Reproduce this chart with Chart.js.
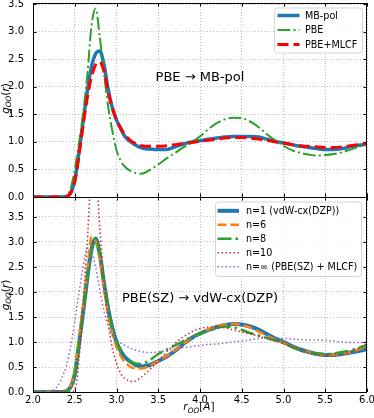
<!DOCTYPE html>
<html>
<head>
<meta charset="utf-8">
<script src="https://cdn.jsdelivr.net/npm/chart.js@4/dist/chart.umd.min.js"></script>
<style>
html, body { margin: 0; padding: 0; background: #fff; }
#wrap { position: relative; width: 374px; height: 418px; }
canvas { position: absolute; left: 0; }
#top { top: 0; }
#bot { top: 197px; }
</style>
</head>
<body>
<div id="wrap">
<canvas id="top" width="374" height="200"></canvas>
<canvas id="bot" width="374" height="221"></canvas>
</div>
<script>
// r_OO grid (Angstrom)
const r = [2.0, 2.1, 2.2, 2.25, 2.3, 2.35,
	2.4, 2.45, 2.5, 2.55, 2.6, 2.65, 2.7, 2.75, 2.8, 2.85, 2.9, 2.95, 3.0, 3.05, 3.1,
	3.2, 3.3, 3.4, 3.5, 3.6, 3.7, 3.8, 3.9, 4.0, 4.1, 4.2, 4.3, 4.4, 4.5, 4.6, 4.7, 4.8, 4.9,
	5.0, 5.1, 5.2, 5.3, 5.4, 5.5, 5.6, 5.7, 5.8, 5.9, 6.0]

// top panel: PBE -> MB-pol
const gMbpol = [0, 0, 0, 0, 0, 0,
	0.01, 0.07, 0.3, 0.8, 1.37, 1.92, 2.36, 2.6, 2.65, 2.4, 1.96, 1.62, 1.4, 1.24, 1.1,
	0.97, 0.89, 0.87, 0.86, 0.86, 0.91, 0.96, 1.0, 1.02, 1.05, 1.07, 1.09, 1.1, 1.1, 1.1, 1.09, 1.05, 1.01,
	0.98, 0.95, 0.92, 0.9, 0.88, 0.86, 0.86, 0.88, 0.91, 0.94, 0.96]
const gPbe = [0, 0, 0, 0, 0, 0,
	0.02, 0.15, 0.5, 0.98, 1.52, 2.2, 3.1, 3.42, 2.9, 2.25, 1.64, 1.2, 0.85, 0.66, 0.55,
	0.45, 0.42, 0.49, 0.59, 0.7, 0.8, 0.9, 0.99, 1.1, 1.23, 1.34, 1.41, 1.44, 1.43, 1.37, 1.27, 1.14, 1.03,
	0.93, 0.85, 0.8, 0.77, 0.75, 0.76, 0.78, 0.81, 0.86, 0.91, 0.96]
const gPbeMlcf = [0, 0, 0, 0, 0, 0,
	0.01, 0.07, 0.28, 0.75, 1.3, 1.8, 2.18, 2.4, 2.45, 2.28, 1.9, 1.62, 1.4, 1.25, 1.13,
	0.99, 0.93, 0.92, 0.92, 0.93, 0.95, 0.97, 0.99, 1.01, 1.03, 1.05, 1.07, 1.08, 1.08, 1.07, 1.05, 1.03, 1.0,
	0.98, 0.95, 0.93, 0.92, 0.91, 0.9, 0.9, 0.91, 0.93, 0.95, 0.97]

// bottom panel: PBE(SZ) -> vdW-cx(DZP)
const gN1 = [0, 0, 0, 0, 0, 0,
	0.02, 0.1, 0.35, 0.95, 1.6, 2.27, 2.85, 3.07, 2.75, 2.18, 1.67, 1.28, 1.0, 0.82, 0.7,
	0.57, 0.51, 0.54, 0.62, 0.71, 0.82, 0.96, 1.08, 1.17, 1.24, 1.3, 1.34, 1.36, 1.35, 1.31, 1.25, 1.16, 1.07,
	1.0, 0.92, 0.85, 0.8, 0.76, 0.74, 0.74, 0.76, 0.79, 0.82, 0.86]
const gN6 = [0, 0, 0, 0, 0, 0,
	0.03, 0.13, 0.42, 1.05, 1.72, 2.4, 3.1, 3.02, 2.65, 2.08, 1.56, 1.18, 0.9, 0.72, 0.6,
	0.48, 0.47, 0.53, 0.62, 0.72, 0.83, 0.96, 1.08, 1.17, 1.25, 1.31, 1.35, 1.36, 1.34, 1.29, 1.21, 1.13, 1.05,
	0.98, 0.91, 0.85, 0.8, 0.76, 0.74, 0.74, 0.77, 0.8, 0.85, 0.91]
const gN8 = [0, 0, 0, 0, 0, 0,
	0.02, 0.1, 0.35, 0.95, 1.6, 2.25, 2.85, 3.07, 2.78, 2.2, 1.68, 1.28, 1.0, 0.82, 0.7,
	0.58, 0.56, 0.64, 0.76, 0.85, 0.93, 1.02, 1.1, 1.17, 1.22, 1.28, 1.31, 1.29, 1.24, 1.18, 1.13, 1.08, 1.03,
	0.98, 0.9, 0.84, 0.8, 0.77, 0.76, 0.77, 0.8, 0.83, 0.88, 0.94]
const gN10 = [0, 0, 0, 0, 0, 0,
	0, 0, 0.04, 0.62, 1.77, 3.0, 4.3, 4.4, 3.27, 2.2, 1.4, 0.88, 0.58, 0.37, 0.27,
	0.21, 0.3, 0.45, 0.62, 0.8, 0.97, 1.1, 1.2, 1.27, 1.3, 1.3, 1.28, 1.24, 1.2, 1.16, 1.12, 1.07, 1.02,
	0.97, 0.91, 0.85, 0.79, 0.75, 0.72, 0.72, 0.75, 0.8, 0.88, 0.97]
const gNinf = [0, 0, 0.01, 0.05, 0.13, 0.3,
	0.52, 0.9, 1.4, 1.98, 2.5, 2.88, 2.82, 2.5, 2.05, 1.62, 1.32, 1.15, 1.05, 0.98, 0.93,
	0.85, 0.81, 0.79, 0.8, 0.83, 0.86, 0.89, 0.91, 0.93, 0.95, 0.96, 0.98, 1.0, 1.02, 1.04, 1.07, 1.08, 1.08,
	1.07, 1.06, 1.05, 1.04, 1.04, 1.03, 1.02, 1.0, 0.99, 0.99, 1.0]

const FONT = '"DejaVu Sans", sans-serif'
const GRID = '#bdbdbd'

const points = (ys) => ys.map((y, i) => ({ x: r[i], y }))

function series(label, ys, color, width, dash, order) {
	return { label, data: points(ys), borderColor: color, borderWidth: width, borderDash: dash, order, fill: false }
}

const topSets = [
	series('MB-pol', gMbpol, '#1f77b4', 3.5, [], 3),
	series('PBE', gPbe, '#2ca02c', 2, [12.8, 3.2, 2, 3.2], 2),
	series('PBE+MLCF', gPbeMlcf, '#ff0000', 3, [11, 5], 1),
]
const botSets = [
	series('n=1 (vdW-cx(DZP))', gN1, '#1f77b4', 4, [], 5),
	series('n=6', gN6, '#ff7f0e', 2.5, [9, 4], 4),
	series('n=8', gN8, '#2ca02c', 2.5, [14, 4, 2.5, 4], 3),
	series('n=10', gN10, '#d62728', 1.5, [1.5, 2.5], 2),
	series('n=\u221e (PBE(SZ) + MLCF)', gNinf, '#9467bd', 1.5, [1.5, 2.5], 1),
]

function drawMath(ctx, parts, size) {
	// parts: [text, italic, sub]
	let w = 0
	const sized = parts.map(([t, it, sub]) => {
		const f = (it ? 'italic ' : '') + (sub ? size * 0.7 : size) + 'px ' + FONT
		ctx.font = f
		const pw = ctx.measureText(t).width
		w += pw
		return { t, f, pw, dy: sub ? size * 0.25 : 0 }
	})
	let x = -w / 2
	ctx.textAlign = 'left'
	ctx.textBaseline = 'alphabetic'
	sized.forEach((p) => {
		ctx.font = p.f
		ctx.fillText(p.t, x, p.dy)
		x += p.pw
	})
}

function drawLegend(ctx, lg, sets) {
	ctx.save()
	ctx.beginPath()
	ctx.roundRect(lg.x0 + 0.5, lg.y0 + 0.5, lg.x1 - lg.x0, lg.y1 - lg.y0, 3)
	ctx.fillStyle = 'rgba(255,255,255,0.85)'
	ctx.fill()
	ctx.strokeStyle = '#d6d6d6'
	ctx.lineWidth = 1
	ctx.stroke()
	ctx.font = '9.6px ' + FONT
	ctx.textBaseline = 'middle'
	ctx.textAlign = 'left'
	sets.forEach((ds, i) => {
		const y = lg.rows[i]
		ctx.beginPath()
		ctx.strokeStyle = ds.borderColor
		ctx.lineWidth = ds.borderWidth
		ctx.setLineDash(ds.borderDash)
		ctx.moveTo(lg.s0, y)
		ctx.lineTo(lg.s1, y)
		ctx.stroke()
		ctx.setLineDash([])
		ctx.fillStyle = '#000'
		ctx.fillText(ds.label, lg.tx, y + 0.5)
	})
	ctx.restore()
}

function panelPlugin(cfg) {
	return {
		id: 'panel',
		afterDatasetsDraw(chart) {
			const { ctx, chartArea: a, scales } = chart
			ctx.save()
			ctx.strokeStyle = '#000'
			ctx.lineWidth = 1
			ctx.beginPath()
			scales.x.ticks.forEach((t) => {
				const px = Math.round(scales.x.getPixelForValue(t.value)) + 0.5
				ctx.moveTo(px, a.bottom); ctx.lineTo(px, a.bottom - 3.5)
				ctx.moveTo(px, a.top); ctx.lineTo(px, a.top + 3.5)
			})
			scales.y.ticks.forEach((t) => {
				const py = Math.round(scales.y.getPixelForValue(t.value)) + 0.5
				ctx.moveTo(a.left, py); ctx.lineTo(a.left + 3.5, py)
				ctx.moveTo(a.right, py); ctx.lineTo(a.right - 3.5, py)
			})
			ctx.stroke()
			ctx.strokeRect(a.left + 0.5, a.top + 0.5, a.right - a.left - 1, a.bottom - a.top)

			// panel caption
			ctx.fillStyle = '#000'
			ctx.font = '13px ' + FONT
			ctx.textAlign = 'center'
			ctx.textBaseline = 'alphabetic'
			ctx.fillText(cfg.caption, scales.x.getPixelForValue(4.0), cfg.captionY)

			// y axis title
			ctx.save()
			ctx.translate(8.5, cfg.yTitleY)
			ctx.rotate(-Math.PI / 2)
			drawMath(ctx, [['g', true], ['OO', true, true], ['(', false], ['r', true], [')', false]], 10.5)
			ctx.restore()

			if (cfg.xTitle) {
				ctx.save()
				ctx.translate(199, cfg.xTitleY)
				drawMath(ctx, [['r', true], ['OO', true, true], ['[', false], ['A', true], [']', false]], 10.5)
				ctx.restore()
			}
			ctx.restore()
			drawLegend(ctx, cfg.legend, chart.data.datasets)
		},
	}
}

function makePanel(id, datasets, yMax, cfg) {
	return new Chart(document.getElementById(id), {
		type: 'line',
		data: { datasets },
		options: {
			responsive: false,
			animation: false,
			devicePixelRatio: 1,
			events: [],
			layout: { padding: cfg.padding },
			plugins: { legend: { display: false }, tooltip: { enabled: false } },
			elements: { point: { radius: 0 }, line: { cubicInterpolationMode: 'monotone' } },
			scales: {
				x: {
					type: 'linear', min: 2, max: 6,
					ticks: {
						display: cfg.showX, stepSize: 0.5, padding: 2, color: '#000', maxRotation: 0, autoSkip: false,
						font: { family: FONT, size: 10 }, callback: (v) => v.toFixed(1),
					},
					grid: { color: GRID, lineWidth: 1, drawTicks: false },
					border: { display: false, dash: [1, 2] },
					afterFit: (s) => { s.height = cfg.showX ? 24 : 0; s.paddingLeft = 0; s.paddingRight = 0 },
				},
				y: {
					min: 0, max: yMax,
					ticks: {
						stepSize: 0.5, includeBounds: false, padding: 9, color: '#000',
						font: { family: FONT, size: 10 }, callback: (v) => v.toFixed(1),
					},
					grid: { color: GRID, lineWidth: 1, drawTicks: false },
					border: { display: false, dash: [1, 2] },
					afterFit: (s) => { s.width = 33; s.paddingTop = 0; s.paddingBottom = 0 },
				},
			},
		},
		plugins: [panelPlugin(cfg)],
	})
}

makePanel('top', topSets, 3.52, {
	showX: false,
	padding: { left: 0, right: 7, top: 3, bottom: 3 },
	caption: 'PBE \u2192 MB-pol', captionY: 81,
	yTitleY: 98.5,
	legend: { x0: 274, y0: 7.5, x1: 362, y1: 52.5, rows: [15.5, 30, 44.5], s0: 277.5, s1: 299.5, tx: 305 },
})

makePanel('bot', botSets, 3.9, {
	showX: true,
	padding: { left: 0, right: 7, top: 0, bottom: 2 },
	caption: 'PBE(SZ) \u2192 vdW-cx(DZP)', captionY: 104.5,
	yTitleY: 98, xTitle: true, xTitleY: 213,
	legend: { x0: 215, y0: 4.5, x1: 361, y1: 79, rows: [13.8, 27.8, 41.8, 55.8, 69.8], s0: 217.5, s1: 239, tx: 246 },
})
</script>
</body>
</html>
